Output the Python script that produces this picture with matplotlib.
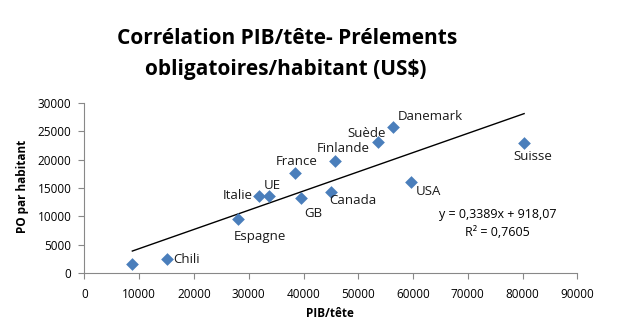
import matplotlib
matplotlib.use("Agg")
import matplotlib.pyplot as plt

plt.rcParams['font.family'] = ['Open Sans', 'DejaVu Sans']

# PIB par tête vs prélèvements obligatoires par habitant (US$)
pays = ["", "Chili", "Espagne", "Italie", "UE", "France", "GB", "Canada",
        "Finlande", "Suède", "Danemark", "USA", "Suisse"]
pib = [8740, 15140, 28120, 31900, 33680, 38480, 39630, 45010,
       45670, 53530, 56340, 59560, 80290]
po = [1640, 2410, 9450, 13560, 13560, 17600, 13200, 14310,
      19720, 23120, 25830, 16080, 22940]

# Droite de tendance linéaire
pente = 0.3389
ordonnee = 918.07
r2 = 0.7605

# Décalage des étiquettes (en pixels) et alignement
offsets = {
    "Chili": (6, 0, "left", "center"),
    "Espagne": (21, -17, "center", "center"),
    "Italie": (-6, 1, "right", "center"),
    "UE": (3, 11, "center", "center"),
    "France": (2, 12, "center", "center"),
    "GB": (12, -15, "center", "center"),
    "Canada": (22, -9, "center", "center"),
    "Finlande": (9, 13, "center", "center"),
    "Suède": (-11, 9, "center", "center"),
    "Danemark": (37, 10, "center", "center"),
    "USA": (18, -10, "center", "center"),
    "Suisse": (9, -13, "center", "center"),
}

fig = plt.figure(figsize=(6.41, 3.35), dpi=100)
ax = fig.add_axes([0.1318, 0.185, 0.7688, 0.5075])

ax.scatter(pib, po, marker="D", s=42, color="#4A7EBB", zorder=3, linewidths=0)

xs = [min(pib), max(pib)]
ax.plot(xs, [pente * x + ordonnee for x in xs], color="black", lw=1.0, zorder=2)

px = 0.72
for nom, x, y in zip(pays, pib, po):
    if not nom:
        continue
    dx, dy, ha, va = offsets[nom]
    ax.annotate(nom, (x, y), xytext=(dx * px, dy * px), textcoords="offset points",
                ha=ha, va=va, fontsize=9.5, color="#1a1a1a")

eq = f"y = {pente}x + {ordonnee}".replace(".", ",")
r2_txt = f"R² = {r2}".replace(".", ",")
ax.text(0.8385, (273 - 214) / 170, eq, transform=ax.transAxes,
        ha="center", va="center", fontsize=9)
ax.text(0.8385, (273 - 232) / 170, r2_txt, transform=ax.transAxes,
        ha="center", va="center", fontsize=9)

ax.set_xlim(0, 90000)
ax.set_ylim(0, 30000)
ax.set_xticks(range(0, 90001, 10000))
ax.set_yticks(range(0, 30001, 5000))
ax.tick_params(axis="both", labelsize=8.5, color="#888888", length=4, direction="out")
ax.tick_params(axis="x", pad=6.5)
ax.tick_params(axis="y", pad=5.5)
for side in ("top", "right"):
    ax.spines[side].set_visible(False)
for side in ("left", "bottom"):
    ax.spines[side].set_color("#888888")

ax.set_xlabel("PIB/tête", fontsize=8.5, fontweight="bold", va="center")
ax.set_ylabel("PO par habitant", fontsize=8.5, fontweight="bold", va="center")
ax.xaxis.set_label_coords(0.499, -0.237)
ax.yaxis.set_label_coords(-0.1254, 0.508)

fig.text(287.5 / 641, 1 - 38 / 335, "Corrélation PIB/tête- Prélements",
         ha="center", va="center", fontsize=15, fontweight="bold")
fig.text(285.5 / 641, 1 - 69 / 335, "obligatoires/habitant (US$)",
         ha="center", va="center", fontsize=15, fontweight="bold")

fig.savefig("out.png", dpi=100)
